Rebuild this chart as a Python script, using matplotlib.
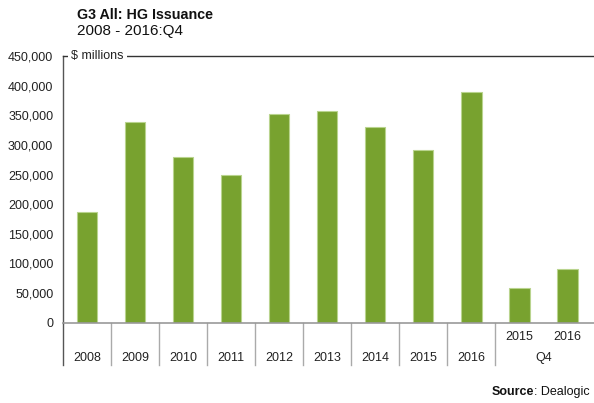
import matplotlib
matplotlib.use("Agg")
import matplotlib.pyplot as plt
from matplotlib.transforms import blended_transform_factory

plt.rcParams['font.family'] = ['Liberation Sans', 'DejaVu Sans']

years = ["2008", "2009", "2010", "2011", "2012", "2013", "2014", "2015", "2016"]
q4_years = ["2015", "2016"]
q4_label = "Q4"
annual_values = [187000, 338000, 279000, 249000, 352000, 358000, 331000, 291000, 390000]
q4_values = [58000, 90000]
yticks = [0, 50000, 100000, 150000, 200000, 250000, 300000, 350000, 400000, 450000]

values = annual_values + q4_values
n = len(values)
xpos = list(range(n))

fs = 9
fig = plt.figure(figsize=(5.94, 4.03), dpi=100)
ax = fig.add_axes([63/594, 1-322.7/403, 1-63/594, (322.7-56)/403])

ax.bar(xpos, values, width=0.42, color="#78a22f", edgecolor="#b9d48e", linewidth=0.8, zorder=2)

ax.set_xlim(-0.5, n - 0.45)
ax.set_ylim(0, 450000)
ax.set_yticks(yticks)
ax.set_yticklabels([f"{v:,}" for v in yticks], fontsize=fs, color="#222222")
ax.tick_params(axis='y', length=0, pad=7)
ax.set_xticks([])

ax.spines["right"].set_visible(False)
ax.spines["left"].set_color("#555555")
ax.spines["left"].set_linewidth(1.0)
ax.spines["top"].set_color("#333333")
ax.spines["top"].set_linewidth(1.0)
ax.spines["bottom"].set_color("#999999")
ax.spines["bottom"].set_linewidth(1.2)

ax.text(0.016, 1.0, "$ millions", transform=ax.transAxes, fontsize=fs, ha="left", va="center",
        color="#222222", bbox=dict(facecolor="white", edgecolor="none", pad=2.5), zorder=5)

# category axis dividers
trans = blended_transform_factory(ax.transData, ax.transAxes)
depth = -(365 - 322.7) / (322.7 - 56)
ax.plot([-0.5, -0.5], [0, depth], transform=trans, color="#555555", lw=1.0, clip_on=False)
for b in range(1, len(years) + 1):
    ax.plot([b - 0.5, b - 0.5], [0, depth], transform=trans, color="#aaaaaa", lw=1.0, clip_on=False)

row2 = -(358 - 322.7) / (322.7 - 56)
row1 = -(337 - 322.7) / (322.7 - 56)
for i, y in enumerate(years):
    ax.text(i, row2, y, transform=trans, ha="center", va="center", fontsize=fs, color="#222222")
for j, y in enumerate(q4_years):
    ax.text(len(years) + j, row1, y, transform=trans, ha="center", va="center", fontsize=fs, color="#222222")
ax.text(len(years) + 0.5, row2, q4_label, transform=trans, ha="center", va="center", fontsize=fs, color="#222222")

fig.text(77/594, 1-15/403, "G3 All: HG Issuance", fontsize=10.3, fontweight="bold", ha="left", va="center", color="#111111")
fig.text(77/594, 1-31/403, "2008 - 2016:Q4", fontsize=11, ha="left", va="center", color="#111111")

d = fig.text(590/594, 1-392/403, ": Dealogic", fontsize=fs, ha="right", va="center", color="#111111")
fig.canvas.draw()
r = fig.canvas.get_renderer()
bb = d.get_window_extent(r)
fig.text(bb.x0 / fig.bbox.width, 1-392/403, "Source", fontsize=fs, ha="right", va="center",
         color="#111111", fontweight="bold")

fig.savefig("out.png", dpi=100)
